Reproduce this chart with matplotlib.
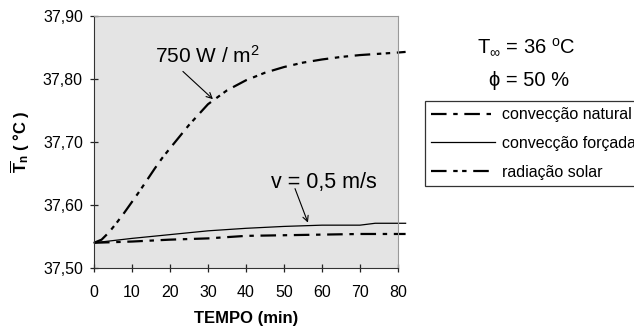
import matplotlib
matplotlib.use('Agg')
import matplotlib.pyplot as plt
import numpy as np

# tempo (min) e temperatura media (oC)
t_rad = [0, 2, 4, 6, 8, 10, 12, 14, 16, 18, 20, 25, 30, 35, 40, 45, 50, 55, 60, 65, 70, 75, 80, 82]
T_rad = [37.540, 37.545, 37.557, 37.572, 37.588, 37.605, 37.622, 37.640, 37.658, 37.675, 37.690,
         37.727, 37.760, 37.782, 37.798, 37.810, 37.819, 37.826, 37.831, 37.835, 37.838, 37.840, 37.842, 37.843]
t_conv = [0, 10, 20, 30, 40, 50, 60, 70, 74, 80, 82]
T_forc = [37.540, 37.547, 37.553, 37.559, 37.563, 37.566, 37.568, 37.568, 37.571, 37.571, 37.571]
T_nat = [37.540, 37.542, 37.545, 37.547, 37.551, 37.552, 37.553, 37.554, 37.554, 37.554, 37.554]

yticks = [37.50, 37.60, 37.70, 37.80, 37.90]
xticks = [0, 10, 20, 30, 40, 50, 60, 70, 80]

plt.rcParams['font.family'] = ['Liberation Sans', 'DejaVu Sans']
plt.rcParams['mathtext.fontset'] = 'custom'
plt.rcParams['mathtext.rm'] = 'Liberation Sans'
plt.rcParams['mathtext.it'] = 'Liberation Sans:italic'
plt.rcParams['mathtext.bf'] = 'Liberation Sans:bold'

fig = plt.figure(figsize=(6.34, 3.33), dpi=100)
ax = fig.add_axes([94/634, 1-268/333, 304/634, 252/333])
ax.set_facecolor('#e4e4e4')

ln_nat, = ax.plot(t_conv, T_nat, color='black', lw=1.6, dashes=(7, 3, 2, 3), clip_on=False)
ln_forc, = ax.plot(t_conv, T_forc, color='black', lw=0.9, clip_on=False)
ln_rad, = ax.plot(t_rad, T_rad, color='black', lw=1.6, dashes=(7, 3, 2, 2, 2, 3), clip_on=False)

ax.set_xlim(0, 80)
ax.set_ylim(37.50, 37.90)
ax.set_xticks(xticks)
ax.set_yticks(yticks)
ax.set_yticklabels([('%.2f' % v).replace('.', ',') for v in yticks])
ax.tick_params(direction='inout', length=6, width=0.9, labelsize=11.5, color='#222222')
ax.tick_params(axis='x', pad=9)
ax.tick_params(axis='y', pad=5)
for s in ['left', 'bottom']:
    ax.spines[s].set_color('#333333')
for s in ['top', 'right']:
    ax.spines[s].set_color('#999999')

ax.set_xlabel('TEMPO (min)', fontsize=12, fontweight='bold', labelpad=8)
ax.set_ylabel(r'$\mathbf{\overline{T}_n}$ ( °C )', fontsize=12, fontweight='bold', labelpad=8)

# anotacoes
ax.text(29.7, 37.836, r'750 W / m$^{2}$', fontsize=15, ha='center', va='center')
ax.annotate('', xy=(31.3, 37.768), xytext=(23.4, 37.812),
            arrowprops=dict(arrowstyle='->', color='black', lw=0.8, shrinkA=0, shrinkB=0))
ax.text(60.5, 37.636, 'v = 0,5 m/s', fontsize=15.5, ha='center', va='center')
ax.annotate('', xy=(56.3, 37.572), xytext=(52.9, 37.626),
            arrowprops=dict(arrowstyle='->', color='black', lw=0.8, shrinkA=0, shrinkB=0))

fig.text(526/634, 1-47/333, r'T$_{\infty}$ = 36 $^{\rm o}$C', fontsize=14.5, ha='center', va='center')
fig.text(529/634, 1-80/333, 'ϕ = 50 %', fontsize=14.5, ha='center', va='center',
         family=['Liberation Sans', 'DejaVu Sans'])

leg = fig.legend([ln_nat, ln_forc, ln_rad],
                 ['convecção natural', 'convecção forçada', 'radiação solar'],
                 loc='upper left', bbox_to_anchor=(425/634, 1-101/333), fontsize=11.5,
                 frameon=True, fancybox=False, handlelength=4.0, handletextpad=0.4,
                 labelspacing=0.85, borderpad=0.4, borderaxespad=0)
leg.get_frame().set_edgecolor('black')
leg.get_frame().set_linewidth(0.9)

fig.savefig('out.png', dpi=100)
